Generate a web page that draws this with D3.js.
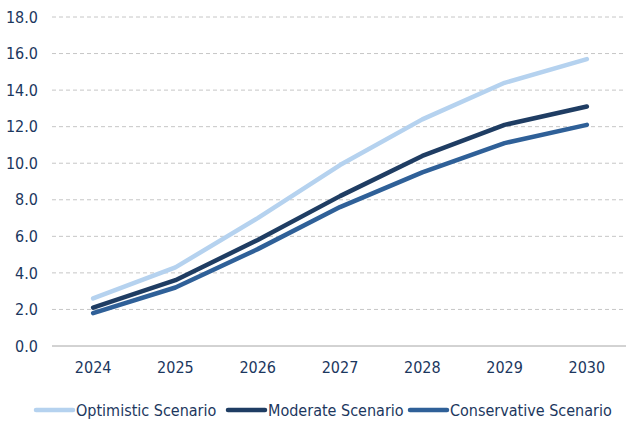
<!DOCTYPE html>
<html>
<head>
<meta charset="utf-8">
<script src="https://cdn.jsdelivr.net/npm/d3@7"></script>
<style>
  html, body { margin: 0; padding: 0; background: #ffffff; }
  svg { display: block; }
  text { font-family: "DejaVu Sans Condensed", "DejaVu Sans", sans-serif; fill: #1c375e; }
</style>
</head>
<body>
<svg id="chart" width="626" height="424"></svg>
<script>
// Projection years and scenario values
const years = ["2024", "2025", "2026", "2027", "2028", "2029", "2030"];
const optimistic = [2.6, 4.3, 7.0, 9.9, 12.4, 14.4, 15.7];
const moderate = [2.1, 3.6, 5.8, 8.2, 10.4, 12.1, 13.1];
const conservative = [1.8, 3.2, 5.3, 7.6, 9.5, 11.1, 12.1];
const yTicks = [0, 2, 4, 6, 8, 10, 12, 14, 16, 18];
const seriesNames = ["Optimistic Scenario", "Moderate Scenario", "Conservative Scenario"];

const series = [
  { name: seriesNames[0], values: optimistic, color: "#b5d2ef" },
  { name: seriesNames[1], values: moderate, color: "#1f3d63" },
  { name: seriesNames[2], values: conservative, color: "#2f6098" }
];

const svg = d3.select("#chart");
const plotLeft = 52, plotRight = 628, plotTop = 17, plotBottom = 346;
const fontSize = 16;

const x = d3.scaleBand().domain(years).range([plotLeft, plotRight]);
const y = d3.scaleLinear().domain([0, 18]).range([plotBottom, plotTop]);

// Horizontal gridlines
svg.append("g")
  .selectAll("line")
  .data(yTicks.filter(d => d > 0))
  .join("line")
  .attr("x1", plotLeft).attr("x2", 626)
  .attr("y1", d => y(d)).attr("y2", d => y(d))
  .attr("stroke", "#c6c6c6")
  .attr("stroke-width", 1)
  .attr("stroke-dasharray", "4,3");

// Baseline
svg.append("line")
  .attr("x1", plotLeft).attr("x2", 626)
  .attr("y1", y(0)).attr("y2", y(0))
  .attr("stroke", "#a6a6a6")
  .attr("stroke-width", 1);

// Y axis labels
const yAxis = d3.axisLeft(y).tickValues(yTicks).tickFormat(d3.format(".1f")).tickSize(0).tickPadding(14);
const gy = svg.append("g").attr("transform", `translate(${plotLeft},0)`).call(yAxis);
gy.select(".domain").remove();
gy.selectAll("text").attr("font-size", fontSize).attr("fill", "#1c375e")
  .style("font-family", "'DejaVu Sans Condensed', sans-serif");

// X axis labels
const xAxis = d3.axisBottom(x).tickSize(0).tickPadding(16);
const gx = svg.append("g").attr("transform", `translate(0,${plotBottom})`).call(xAxis);
gx.select(".domain").remove();
gx.selectAll("text").attr("font-size", fontSize).attr("fill", "#1c375e")
  .style("font-family", "'DejaVu Sans Condensed', sans-serif");

// Scenario lines
const line = d3.line()
  .x((d, i) => x(years[i]) + x.bandwidth() / 2)
  .y(d => y(d));

svg.append("g")
  .selectAll("path")
  .data(series)
  .join("path")
  .attr("d", d => line(d.values))
  .attr("fill", "none")
  .attr("stroke", d => d.color)
  .attr("stroke-width", 4.5)
  .attr("stroke-linejoin", "round")
  .attr("stroke-linecap", "round");

// Legend
const legendX = [36, 228, 410];
const legend = svg.append("g").attr("transform", "translate(0,410)");
series.forEach((s, i) => {
  const g = legend.append("g").attr("transform", `translate(${legendX[i]},0)`);
  g.append("line")
    .attr("x1", 0).attr("x2", 37)
    .attr("y1", 0).attr("y2", 0)
    .attr("stroke", s.color)
    .attr("stroke-width", 4.5)
    .attr("stroke-linecap", "round");
  g.append("text")
    .attr("x", 40).attr("y", 6)
    .attr("font-size", fontSize)
    .text(s.name);
});
</script>
</body>
</html>
